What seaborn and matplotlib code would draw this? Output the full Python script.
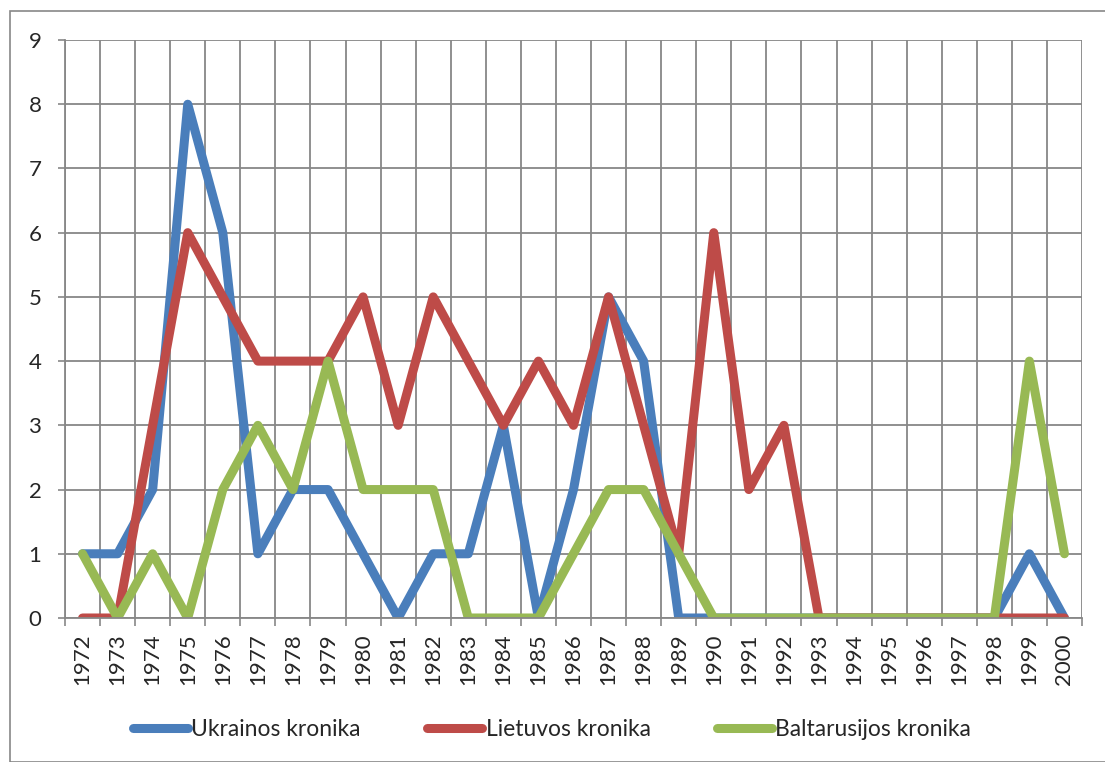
import matplotlib
matplotlib.use("Agg")
from matplotlib import pyplot as plt
from matplotlib.patches import Rectangle
import pandas as pd
import seaborn as sns

years = list(range(1972, 2001))
ukrainos = [1, 1, 2, 8, 6, 1, 2, 2, 1, 0, 1, 1, 3, 0, 2, 5, 4, 0, 0, 0, 0, 0, 0, 0, 0, 0, 0, 1, 0]
lietuvos = [0, 0, 3, 6, 5, 4, 4, 4, 5, 3, 5, 4, 3, 4, 3, 5, 3, 1, 6, 2, 3, 0, 0, 0, 0, 0, 0, 0, 0]
baltarusijos = [1, 0, 1, 0, 2, 3, 2, 4, 2, 2, 2, 0, 0, 0, 1, 2, 2, 1, 0, 0, 0, 0, 0, 0, 0, 0, 0, 4, 1]
series_names = ["Ukrainos kronika", "Lietuvos kronika", "Baltarusijos kronika"]
colors = ["#4A7EBB", "#BE4B48", "#98B954"]

sns.set_style("white")
plt.rcParams["font.family"] = ["Lato", "DejaVu Sans"]

pos = list(range(len(years)))
df = pd.DataFrame({
    "pos": pos * 3,
    "value": ukrainos + lietuvos + baltarusijos,
    "series": [series_names[0]] * len(years) + [series_names[1]] * len(years) + [series_names[2]] * len(years),
})

fig = plt.figure(figsize=(11.05, 7.62), dpi=100)
ax = fig.add_axes([65 / 1105, 1 - 618 / 762, (1082 - 65) / 1105, (618 - 40) / 762])

sns.lineplot(data=df, x="pos", y="value", hue="series", palette=colors,
             linewidth=6.5, ax=ax, legend=False, solid_capstyle="round",
             solid_joinstyle="round")

ax.set_xlim(-0.5, len(years) - 0.5)
ax.set_ylim(0, 9)
ax.set_xticks(pos)
ax.set_xticklabels([str(y) for y in years], rotation=90, fontsize=16)
ax.set_xticks([p - 0.5 for p in pos] + [len(years) - 0.5], minor=True)
ax.set_yticks(range(10))
ax.tick_params(axis="y", labelsize=16, length=5, width=1.2, color="#878787", left=True, pad=12)
ax.tick_params(axis="x", which="major", length=0, pad=11)
ax.tick_params(axis="x", which="minor", length=6, width=1.2, color="#878787", bottom=True)
ax.grid(True, which="minor", axis="x", color="#878787", linewidth=1.3)
ax.grid(True, which="major", axis="y", color="#878787", linewidth=1.3)
ax.set_axisbelow(True)
ax.set_xlabel("")
ax.set_ylabel("")
for side in ["top", "right"]:
    ax.spines[side].set_visible(False)
for side in ["left", "bottom"]:
    ax.spines[side].set_color("#878787")
    ax.spines[side].set_linewidth(1.3)

handles = [plt.Line2D([0], [0], color=c, linewidth=6.5, solid_capstyle="round") for c in colors]
fig.legend(handles, series_names, loc="center", bbox_to_anchor=(552 / 1105, 1 - 730 / 762),
           ncol=3, frameon=False, fontsize=16.5, handlelength=2.4, columnspacing=2.9,
           handletextpad=0.15)

fig.patches.append(Rectangle((10 / 1105, 0), 1.1, 1 - 11 / 762, transform=fig.transFigure,
                             fill=False, edgecolor="#878787", linewidth=1.2))

fig.savefig("out.png", dpi=100)
